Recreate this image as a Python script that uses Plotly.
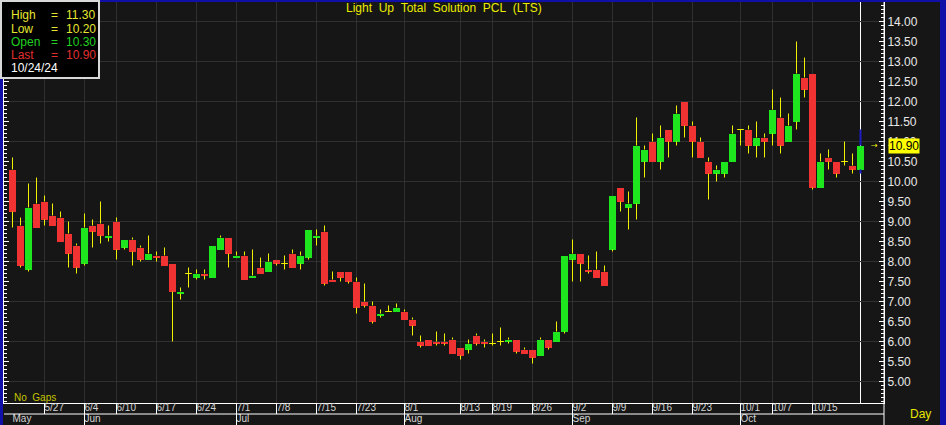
import pandas as pd
import plotly.graph_objects as go

# ---------------- data ----------------
opens = [10.30, 8.90, 7.80, 9.45, 9.50, 9.15, 9.10, 8.70, 8.40, 7.95,
         8.90, 8.95, 8.60, 9.00, 8.35, 8.55, 8.35, 8.05, 8.15, 8.15,
         7.95, 7.20, 7.70, 7.60, 7.70, 7.60, 8.30, 8.60, 8.10, 8.15,
         7.60, 7.85, 7.75, 8.05, 7.95, 8.20, 7.95, 8.10, 8.60, 8.75,
         7.55, 7.75, 7.75, 7.50, 7.00, 6.90, 6.65, 6.75, 6.75, 6.75,
         6.55, 6.00, 6.05, 6.00, 6.00, 6.05, 5.85, 5.80, 6.15, 6.00,
         5.95, 6.00, 6.00, 6.05, 5.80, 5.80, 5.65, 6.05, 6.00, 6.25,
         8.05, 8.20, 7.80, 7.80, 7.75, 8.30, 9.85, 9.35, 9.45, 10.50,
         11.00, 10.50, 11.30, 11.00, 12.00, 11.40, 11.00, 10.50, 10.20, 10.20,
         10.50, 11.30, 11.30, 10.90, 11.10, 11.20, 11.60, 11.00, 11.50, 12.60,
         12.70, 9.85, 10.60, 10.50, 10.50, 10.40, 10.30]
highs = [10.60, 9.10, 9.95, 10.10, 9.65, 9.45, 9.25, 9.00, 8.45, 9.20,
         9.05, 9.50, 8.90, 9.10, 8.55, 8.60, 8.40, 8.65, 8.25, 8.35,
         7.95, 7.35, 7.85, 7.80, 7.80, 8.40, 8.65, 8.60, 8.25, 8.25,
         8.30, 8.10, 8.20, 8.05, 8.15, 8.30, 8.25, 8.80, 8.80, 8.90,
         7.75, 7.75, 7.75, 7.60, 7.45, 7.00, 6.80, 6.90, 6.95, 6.80,
         6.60, 6.15, 6.05, 6.25, 6.20, 6.10, 5.85, 6.05, 6.20, 6.05,
         6.20, 6.35, 6.10, 6.05, 5.85, 5.80, 6.10, 6.05, 6.50, 8.15,
         8.55, 8.20, 8.15, 8.25, 7.90, 9.65, 9.85, 9.75, 11.60, 10.90,
         11.20, 11.40, 11.30, 11.90, 12.00, 11.50, 11.10, 10.60, 10.40, 10.50,
         11.40, 11.30, 11.40, 11.50, 11.20, 12.30, 12.10, 11.70, 13.50, 13.10,
         12.70, 10.70, 10.80, 10.50, 11.00, 10.70, 11.30]
lows = [8.85, 7.85, 7.75, 8.85, 8.90, 8.90, 8.50, 7.85, 7.70, 7.90,
        8.35, 8.45, 8.50, 8.05, 8.30, 7.90, 8.00, 8.05, 8.00, 7.90,
        6.00, 7.05, 7.35, 7.55, 7.55, 7.60, 8.30, 7.85, 8.10, 7.55,
        7.60, 7.70, 7.75, 7.90, 7.80, 7.85, 7.80, 8.05, 8.40, 7.40,
        7.50, 7.50, 7.45, 6.70, 6.85, 6.45, 6.60, 6.75, 6.75, 6.55,
        6.15, 5.85, 5.90, 5.90, 5.90, 5.70, 5.55, 5.70, 5.90, 5.85,
        5.90, 5.90, 5.95, 5.70, 5.70, 5.45, 5.65, 5.80, 6.00, 6.20,
        7.50, 7.50, 7.70, 7.60, 7.40, 8.25, 9.25, 8.80, 9.05, 10.10,
        10.50, 10.30, 10.60, 10.90, 11.10, 10.60, 10.60, 9.55, 10.00, 10.10,
        10.50, 10.90, 10.70, 10.60, 10.60, 10.90, 10.70, 11.00, 11.30, 12.10,
        9.80, 9.85, 10.30, 10.10, 10.40, 10.20, 10.20]
closes = [9.25, 7.90, 9.35, 8.85, 9.05, 8.90, 8.50, 8.20, 7.85, 8.85,
          8.75, 8.65, 8.65, 8.30, 8.55, 8.25, 8.05, 8.20, 8.10, 7.90,
          7.25, 7.25, 7.70, 7.70, 7.65, 8.40, 8.60, 8.20, 8.15, 7.55,
          7.65, 7.70, 8.00, 7.95, 7.95, 7.85, 8.15, 8.80, 8.65, 7.45,
          7.50, 7.60, 7.50, 6.85, 6.90, 6.50, 6.70, 6.75, 6.85, 6.55,
          6.40, 5.90, 5.90, 5.95, 5.95, 5.70, 5.65, 5.95, 5.95, 5.95,
          5.95, 6.00, 6.05, 5.75, 5.70, 5.60, 6.05, 5.85, 6.25, 8.15,
          8.20, 7.95, 7.75, 7.60, 7.40, 9.65, 9.50, 9.45, 10.90, 10.80,
          10.50, 11.10, 11.00, 11.70, 11.40, 11.00, 10.60, 10.20, 10.30, 10.50,
          11.20, 11.30, 10.90, 11.10, 11.00, 11.80, 10.90, 11.40, 12.70, 12.30,
          9.85, 10.50, 10.50, 10.20, 10.50, 10.30, 10.90]

holidays = ["2024-05-22", "2024-06-03", "2024-07-22", "2024-07-29",
            "2024-08-12", "2024-10-14", "2024-10-23"]
days = [d for d in pd.bdate_range("2024-05-20", "2024-10-24")
        if d.strftime("%Y-%m-%d") not in holidays]

week_labels = ["5/27", "6/4", "6/10", "6/17", "6/24", "7/1", "7/8", "7/15", "7/23",
               "8/1", "8/13", "8/19", "8/26", "9/2", "9/9", "9/16", "9/23",
               "10/1", "10/7", "10/15"]
month_labels = ["May", "Jun", "Jul", "Aug", "Sep", "Oct"]
title_text = "Light Up Total Solution PCL (LTS)"
y_ticks = [5.0 + 0.5 * k for k in range(19)]
y_grid = [5, 6, 7, 8, 9, 10, 11, 12, 13, 14]

# ---------------- styling / layout helpers ----------------
FONT = "Liberation Sans, Arial, sans-serif"
BG = "#161616"
GRID = "#303030"
UP = "#1ee61e"
DOWN = "#f03232"
WICK = "#f0f000"
BLUE = "#1010a8"
W, H = 946, 425
ML, MR, MT, MB = 4, 62, 2, 0


def px_x(px):
    return (px - ML) / (W - ML - MR)


def px_y(py):
    return (H - MB - py) / (H - MT - MB)


n = len(closes)
idx = list(range(n))
labels_md = [f"{d.month}/{d.day}" for d in days]
week_idx = [labels_md.index(w) for w in week_labels]
month_names = [d.strftime("%b") for d in days]
month_idx = [month_names.index(m) for m in month_labels]

x_range = [-1.0625, n - 1 + 2.9375]
y_range = [4.4625, 14.4875]

# wicks (outside the body) + doji bars
wx, wy = [], []
for i in idx[:-1]:
    top = max(opens[i], closes[i])
    bot = min(opens[i], closes[i])
    if highs[i] > top:
        wx += [i, i, None]
        wy += [top, highs[i], None]
    if lows[i] < bot:
        wx += [i, i, None]
        wy += [lows[i], bot, None]
for i in idx:
    if opens[i] == closes[i]:
        wx += [i - 0.42, i + 0.42, None]
        wy += [opens[i], opens[i], None]

up_i = [i for i in idx if closes[i] > opens[i]]
dn_i = [i for i in idx if closes[i] < opens[i]]

# last (selected) bar wick, drawn outside its body
lx, ly = [], []
ltop, lbot = max(opens[-1], closes[-1]), min(opens[-1], closes[-1])
lx += [idx[-1], idx[-1], None, idx[-1], idx[-1]]
ly += [ltop, highs[-1], None, lows[-1], lbot]

fig = go.Figure()
fig.add_trace(go.Scatter(x=[], y=[], yaxis="y2", showlegend=False, hoverinfo="skip"))
fig.add_trace(go.Bar(x=up_i, base=[opens[i] for i in up_i],
                     y=[closes[i] - opens[i] for i in up_i], width=0.85,
                     marker=dict(color=UP, line=dict(width=0)), showlegend=False))
fig.add_trace(go.Bar(x=dn_i, base=[closes[i] for i in dn_i],
                     y=[opens[i] - closes[i] for i in dn_i], width=0.85,
                     marker=dict(color=DOWN, line=dict(width=0)), showlegend=False))
fig.add_trace(go.Scatter(x=wx, y=wy, mode="lines", line=dict(color=WICK, width=1),
                         hoverinfo="skip", showlegend=False))
fig.add_trace(go.Scatter(x=lx, y=ly, mode="lines",
                         line=dict(color="#1c1cc0", width=2), hoverinfo="skip",
                         showlegend=False))

# bottom strip: date labels and month labels
fig.add_trace(go.Scatter(x=week_idx, y=[1.5] * len(week_idx), text=week_labels,
                         mode="text", textposition="middle right",
                         textfont=dict(family=FONT, size=10, color="#d4d4d4"),
                         xaxis="x2", yaxis="y3", hoverinfo="skip", showlegend=False,
                         cliponaxis=False))
fig.add_trace(go.Scatter(x=month_idx, y=[0.5] * len(month_idx), text=month_labels,
                         mode="text", textposition="middle right",
                         textfont=dict(family=FONT, size=10, color="#d4d4d4"),
                         xaxis="x2", yaxis="y3", hoverinfo="skip", showlegend=False,
                         cliponaxis=False))

shapes = []
# blue window border
shapes.append(dict(type="rect", xref="paper", yref="paper", x0=px_x(0), x1=px_x(3),
                   y0=px_y(425), y1=px_y(0), fillcolor=BLUE, line=dict(width=0)))
shapes.append(dict(type="rect", xref="paper", yref="paper", x0=px_x(940), x1=px_x(947),
                   y0=px_y(425), y1=px_y(0), fillcolor=BLUE, line=dict(width=0)))
shapes.append(dict(type="rect", xref="paper", yref="paper", x0=px_x(0), x1=px_x(946),
                   y0=px_y(2), y1=px_y(0), fillcolor=BLUE, line=dict(width=0)))
# right axis line through full height
shapes.append(dict(type="line", xref="paper", yref="paper", x0=1, x1=1, y0=0, y1=1,
                   line=dict(color="white", width=1)))
# strip middle line
shapes.append(dict(type="line", xref="paper", yref="y3", x0=0, x1=1, y0=1, y1=1,
                   line=dict(color="white", width=1)))
# week separators and month separators
for wi in week_idx:
    shapes.append(dict(type="line", xref="x2", yref="y3", x0=wi, x1=wi, y0=1, y1=2,
                       line=dict(color="white", width=1)))
for mi in month_idx:
    if mi > 0:
        shapes.append(dict(type="line", xref="x2", yref="y3", x0=mi, x1=mi, y0=0, y1=1,
                           line=dict(color="white", width=1)))
# cursor line on last bar
shapes.append(dict(type="line", xref="x", yref="y", x0=idx[-1], x1=idx[-1],
                   y0=y_range[0], y1=y_range[1], line=dict(color="white", width=1),
                   layer="below"))
# info box
shapes.append(dict(type="rect", xref="paper", yref="paper", x0=px_x(1), x1=px_x(99),
                   y0=px_y(78), y1=px_y(1), fillcolor="black",
                   line=dict(color="#d8d8d8", width=2)))

ann = []
ann.append(dict(xref="paper", yref="paper", x=0.5, y=px_y(8.5), xanchor="center",
                yanchor="middle", showarrow=False,
                text=title_text.replace(" ", "\u00a0\u00a0"),
                font=dict(family=FONT, size=12, color="#ecec00")))
info_rows = [("High", highs[-1], "#e6e632", 15),
             ("Low", lows[-1], "#e6e632", 28.5),
             ("Open", opens[-1], "#22d022", 42),
             ("Last", closes[-1], "#e03030", 55)]
for name, val, col, py in info_rows:
    for txt, px in ((name, 9), ("=", 49), (f"{val:.2f}", 64)):
        ann.append(dict(xref="paper", yref="paper", x=px_x(px), y=px_y(py),
                        xanchor="left", yanchor="middle", showarrow=False, text=txt,
                        font=dict(family=FONT, size=12, color=col)))
ann.append(dict(xref="paper", yref="paper", x=px_x(9), y=px_y(68.5), xanchor="left",
                yanchor="middle", showarrow=False, text=days[-1].strftime("%m/%d/%y"),
                font=dict(family=FONT, size=12, color="white")))
ann.append(dict(xref="paper", yref="paper", x=px_x(12), y=px_y(397), xanchor="left",
                yanchor="middle", showarrow=False, text="No\u00a0\u00a0Gaps",
                font=dict(family=FONT, size=10, color="#c4c400")))
ann.append(dict(xref="paper", yref="paper", x=px_x(908), y=px_y(414), xanchor="left",
                yanchor="middle", showarrow=False, text="Day",
                font=dict(family=FONT, size=12, color="#e6e600")))
ann.append(dict(xref="paper", yref="y", x=px_x(888), y=closes[-1], xanchor="left",
                yanchor="middle", showarrow=False, text=f"{closes[-1]:.2f}",
                bgcolor="#ffff00", borderpad=0,
                font=dict(family=FONT, size=12, color="black")))
ann.append(dict(xref="paper", yref="y", x=px_x(880), y=closes[-1], xanchor="right",
                yanchor="middle", showarrow=False, text="\u2192",
                font=dict(family="DejaVu Sans", size=8, color="#f0f000")))

fig.update_layout(
    width=W, height=H,
    margin=dict(l=ML, r=MR, t=MT, b=MB, pad=0),
    paper_bgcolor=BG, plot_bgcolor=BG,
    barmode="overlay", bargap=0,
    showlegend=False,
    font=dict(family=FONT, color="#e6e6e6"),
    xaxis=dict(range=x_range, anchor="y", tickvals=week_idx, showticklabels=False,
               ticks="", showgrid=True, gridcolor=GRID, gridwidth=1, zeroline=False,
               showline=True, linecolor="white", linewidth=1, automargin=False),
    xaxis2=dict(range=x_range, anchor="y3", matches="x", showgrid=False,
                showticklabels=False, ticks="", zeroline=False, showline=False,
                automargin=False),
    yaxis=dict(domain=[px_y(403), 1], range=y_range, anchor="x", side="right",
               tickvals=y_ticks, ticktext=[f"{v:.2f}" for v in y_ticks],
               ticks="inside", ticklen=5, tickcolor="white", tickwidth=1,
               showgrid=False, zeroline=False, showline=True, linecolor="white",
               linewidth=1, mirror="ticks",
               tickfont=dict(family=FONT, size=12, color="#e8e8e8"),
               minor=dict(dtick=0.1, tick0=0, ticks="inside", ticklen=3,
                          tickcolor="white", showgrid=False),
               automargin=False, fixedrange=True),
    yaxis2=dict(range=y_range, overlaying="y", anchor="x", side="right",
                tickvals=y_grid, showgrid=True, gridcolor=GRID, gridwidth=1,
                showticklabels=False, ticks="", zeroline=False, showline=False,
                automargin=False),
    yaxis3=dict(domain=[0, px_y(403)], range=[0, 2], anchor="x2", showgrid=False,
                showticklabels=False, ticks="", zeroline=False, showline=False,
                automargin=False),
    shapes=shapes,
    annotations=ann,
)

fig.write_html(
    "out.html",
    config={"displayModeBar": False},
    post_script="document.body.style.margin='0';document.body.style.overflow='hidden';",
)
